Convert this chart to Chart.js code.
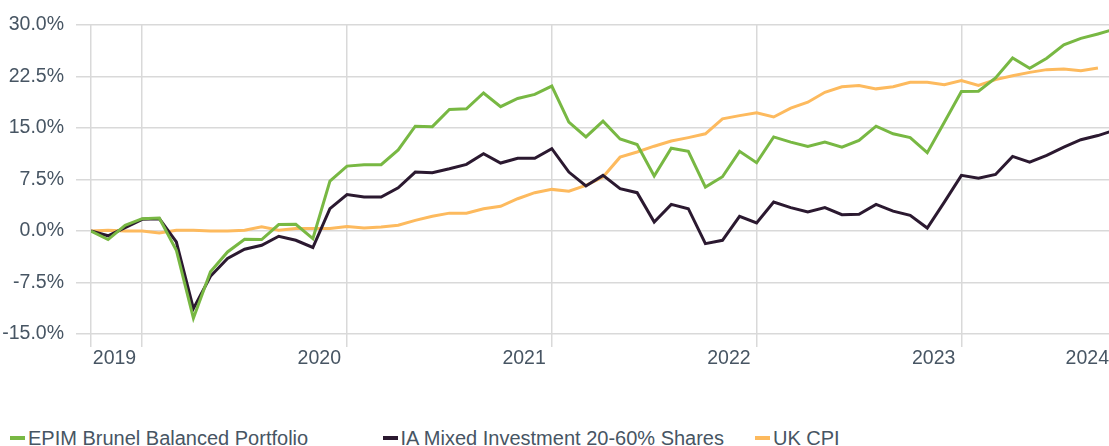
<!DOCTYPE html>
<html>
<head>
<meta charset="utf-8">
<title>EPIM Brunel Balanced Portfolio</title>
<script src="https://cdn.jsdelivr.net/npm/chart.js@4.4.1/dist/chart.umd.min.js"></script>
<style>
    html, body { margin: 0; padding: 0; background: #fff; overflow: hidden; }
    #wrap { position: relative; width: 1109px; height: 446px; overflow: hidden; }
    #chart { position: absolute; left: 0; top: 0; }
    #legend {
        position: absolute; left: 10px; top: 428px;
        display: flex; white-space: nowrap;
        font: 20px 'Liberation Sans', Arial, sans-serif; line-height: 20px; color: #475563;
    }
    .legend-item { width: 372.5px; display: flex; align-items: center; }
    .legend-swatch { width: 15px; height: 4px; margin-right: 3px; }
</style>
</head>
<body>
<div id="wrap">
    <canvas id="chart" width="1115" height="400"></canvas>
    <div id="legend"></div>
</div>
<script>
// ===== Cumulative performance since Oct 2018 (monthly, %) =====

const START_YEAR = 2018;
const START_MONTH = 10; // October

const epimBrunel = [
    0.0, -1.25, 0.83, 1.8, 1.9, -2.8, -12.7, -5.95, -3.05, -1.2,
    -1.25, 0.93, 0.97, -1.1, 7.27, 9.45, 9.65, 9.65, 11.8, 15.26,
    15.2, 17.7, 17.8, 20.1, 18.1, 19.3, 19.9, 21.1, 15.85, 13.7,
    16.0, 13.4, 12.6, 8.0, 12.06, 11.6, 6.4, 7.9, 11.6, 9.94,
    13.7, 12.95, 12.3, 12.95, 12.2, 13.2, 15.26, 14.15, 13.6, 11.4,
    15.85, 20.3, 20.35, 22.3, 25.2, 23.7, 25.15, 27.1, 28.05, 28.7,
    29.4
];

const iaMixed = [
    0.0, -0.7, 0.5, 1.7, 1.8, -1.6, -11.3, -6.6, -4.0, -2.66,
    -2.08, -0.77, -1.35, -2.4, 3.25, 5.3, 4.95, 4.95, 6.3, 8.58,
    8.5, 9.07, 9.7, 11.25, 9.9, 10.6, 10.6, 12.0, 8.58, 6.55,
    8.1, 6.16, 5.58, 1.3, 3.88, 3.25, -1.84, -1.35, 2.14, 1.17,
    4.22, 3.4, 2.77, 3.4, 2.38, 2.43, 3.88, 2.9, 2.28, 0.44,
    4.2, 8.1, 7.7, 8.24, 10.86, 10.03, 11.0, 12.2, 13.3, 13.9,
    14.7
];

const ukCpi = [
    0.0, 0.1, 0.0, 0.0, -0.3, 0.1, 0.1, 0.0, 0.0, 0.1,
    0.6, 0.1, 0.35, 0.35, 0.35, 0.65, 0.44, 0.58, 0.83, 1.55,
    2.14, 2.6, 2.6, 3.25, 3.6, 4.7, 5.58, 6.06, 5.8, 6.64,
    7.85, 10.75, 11.5, 12.35, 13.1, 13.6, 14.15, 16.34, 16.8, 17.2,
    16.6, 17.9, 18.75, 20.2, 21.0, 21.2, 20.7, 21.0, 21.65, 21.65,
    21.3, 21.9, 21.2, 22.05, 22.6, 23.1, 23.5, 23.6, 23.35, 23.75
];

const yearLabels = ['2019', '2020', '2021', '2022', '2023', '2024'];
const yTicks = { min: -15, max: 30, step: 7.5 };

// Label bulan (Oct 2018 ...) untuk tooltip
const months = epimBrunel.map((_, i) => {
    const m = (START_MONTH - 1 + i) % 12;
    const y = START_YEAR + Math.floor((START_MONTH - 1 + i) / 12);
    return new Date(y, m, 1).toLocaleString('en-GB', { month: 'short', year: 'numeric' });
});

const X_MAX = 59.65;          // last month sits just past the right edge
const LABEL_NUDGE = 0.35;     // year label clamped to the right edge
const TEXT_COLOR = '#475563';
const GRID_COLOR = '#d9d9d9';
const FONT = { family: "'Liberation Sans', Arial, sans-serif", size: 19.5 };

// Posisi tahun = indeks Januari tiap tahun
const yearTickValues = yearLabels.map(y => {
    const idx = (Number(y) - START_YEAR) * 12 - (START_MONTH - 1);
    return Math.min(idx, X_MAX + LABEL_NUDGE);
});
const xTickValues = [0, ...yearTickValues];
const xTickText = ['', ...yearLabels];

const toPoints = arr => arr.map((v, i) => ({ x: i, y: v }));

const ctx = document.getElementById('chart');
const chart = new Chart(ctx, {
    type: 'line',
    data: {
        datasets: [
            {
                label: 'EPIM Brunel Balanced Portfolio',
                data: toPoints(epimBrunel),
                borderColor: '#78b843',
                backgroundColor: '#78b843',
                borderWidth: 3,
                pointRadius: 0,
                tension: 0
            },
            {
                label: 'IA Mixed Investment 20-60% Shares',
                data: toPoints(iaMixed),
                borderColor: '#2b1930',
                backgroundColor: '#2b1930',
                borderWidth: 3,
                pointRadius: 0,
                tension: 0
            },
            {
                label: 'UK CPI',
                data: toPoints(ukCpi),
                borderColor: '#fdba5e',
                backgroundColor: '#fdba5e',
                borderWidth: 3,
                pointRadius: 0,
                tension: 0
            }
        ]
    },
    options: {
        responsive: false,
        animation: false,
        layout: { padding: { top: 25, right: 0, bottom: 0, left: 0 } },
        plugins: {
            legend: { display: false },
            tooltip: {
                callbacks: {
                    title: items => months[items[0].parsed.x] || '',
                    label: c => c.dataset.label + ': ' + c.parsed.y.toFixed(1) + '%'
                }
            }
        },
        scales: {
            x: {
                type: 'linear',
                min: 0,
                max: X_MAX,
                border: { display: false },
                grid: { color: GRID_COLOR, lineWidth: 1.5, tickLength: 13 },
                ticks: {
                    align: 'end',
                    labelOffset: -6,
                    padding: 0,
                    autoSkip: false,
                    maxRotation: 0,
                    color: TEXT_COLOR,
                    font: FONT,
                    callback: (value, index) => xTickText[index] ?? ''
                },
                afterBuildTicks: scale => {
                    scale.ticks = xTickValues.map(v => ({ value: v }));
                },
                afterFit: scale => { scale.height = 66; }
            },
            y: {
                min: yTicks.min,
                max: yTicks.max,
                border: { display: false },
                grid: { color: GRID_COLOR, lineWidth: 1.5, tickLength: 15 },
                ticks: {
                    stepSize: yTicks.step,
                    padding: 12,
                    color: TEXT_COLOR,
                    font: FONT,
                    callback: v => Number(v).toFixed(1) + '%'
                },
                afterFit: scale => { scale.width = 91; }
            }
        }
    }
});

// Legend HTML (kolom lebar tetap seperti aslinya)
const legendEl = document.getElementById('legend');
chart.data.datasets.forEach(ds => {
    const item = document.createElement('div');
    item.className = 'legend-item';
    const sw = document.createElement('span');
    sw.className = 'legend-swatch';
    sw.style.background = ds.borderColor;
    const txt = document.createElement('span');
    txt.textContent = ds.label;
    item.appendChild(sw);
    item.appendChild(txt);
    legendEl.appendChild(item);
});
</script>
</body>
</html>
